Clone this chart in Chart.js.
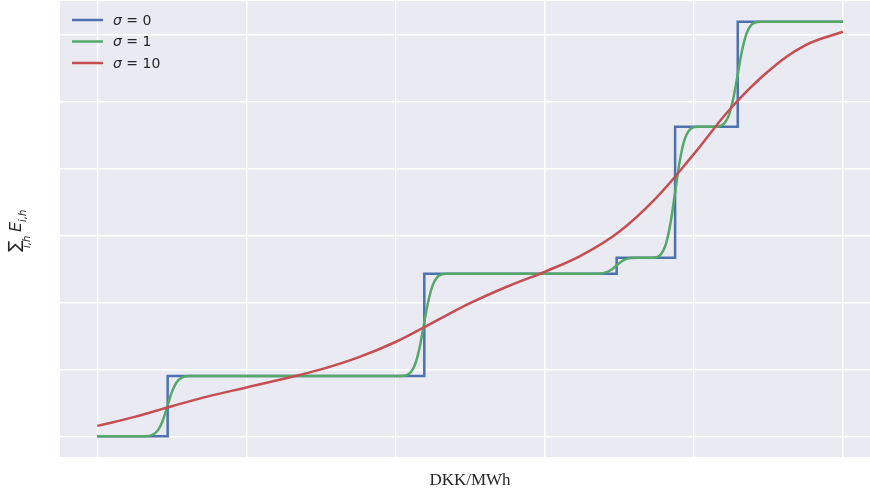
<!DOCTYPE html>
<html lang="en">
<head>
    <meta charset="UTF-8">
    <title>Smoothed supply curves</title>
    <script src="https://cdn.jsdelivr.net/npm/chart.js"></script>
    <style>
        html, body { margin: 0; padding: 0; background: white; overflow: hidden; }
        #wrap { width: 870px; height: 491px; position: relative; }
    </style>
</head>
<body>
    <div id="wrap"><canvas id="curves" width="870" height="491"></canvas></div>

    <script>
        // price axis in grid units, aggregated energy in grid units
        const sigmaLabels = ['0', '1', '10'];
        const lineColors = ['#4C72B0', '#55A868', '#C44E52'];

        // sigma = 0: the raw step curve (value changes at each price)
        const stepX = [0, 0.472, 2.193, 3.483, 3.875, 4.295, 5.0];
        const stepY = [0, 0.90, 2.43, 2.67, 4.63, 6.20, 6.20];

        // sigma = 1
        const smallX = [0, 0.32, 0.37, 0.41, 0.44, 0.47, 0.50, 0.53, 0.57, 0.62,
                        2.04, 2.09, 2.13, 2.16, 2.19, 2.22, 2.25, 2.29, 2.34,
                        3.33, 3.38, 3.42, 3.45, 3.48, 3.51, 3.54, 3.58, 3.63,
                        3.725, 3.775, 3.815, 3.845, 3.875, 3.905, 3.935, 3.975, 4.025,
                        4.145, 4.195, 4.235, 4.265, 4.295, 4.325, 4.355, 4.395, 4.445, 5.0];
        const smallY = [0, 0, 0.02, 0.10, 0.24, 0.45, 0.66, 0.80, 0.88, 0.90,
                        0.90, 0.93, 1.07, 1.31, 1.67, 2.02, 2.26, 2.40, 2.43,
                        2.43, 2.435, 2.46, 2.495, 2.55, 2.605, 2.645, 2.665, 2.67,
                        2.67, 2.71, 2.89, 3.20, 3.65, 4.10, 4.41, 4.59, 4.63,
                        4.63, 4.66, 4.80, 5.05, 5.415, 5.78, 6.03, 6.17, 6.20, 6.20];

        // sigma = 10
        const wideX = [0, 0.25, 0.5, 0.75, 1.0, 1.25, 1.5, 1.75, 2.0, 2.25, 2.5,
                       2.75, 3.0, 3.25, 3.5, 3.75, 4.0, 4.25, 4.5, 4.75, 5.0];
        const wideY = [0.155, 0.29, 0.45, 0.60, 0.73, 0.86, 1.00, 1.18, 1.41, 1.70, 1.99,
                       2.24, 2.46, 2.71, 3.06, 3.57, 4.22, 4.91, 5.46, 5.85, 6.05];

        const pts = (xs, ys) => xs.map((x, i) => ({ x: x, y: ys[i] }));

        const bgPlugin = {
            id: 'axesBg',
            beforeDraw(chart) {
                const { ctx, chartArea: a } = chart;
                ctx.save();
                ctx.fillStyle = '#EAEAF2';
                ctx.fillRect(a.left, a.top, a.right - a.left, a.bottom - a.top);
                ctx.restore();
            }
        };

        const labelPlugin = {
            id: 'labels',
            afterDraw(chart) {
                const ctx = chart.ctx;
                ctx.save();
                // legend
                chart.data.datasets.forEach((ds, i) => {
                    const y = 20 + i * 21.5;
                    ctx.strokeStyle = ds.borderColor;
                    ctx.lineWidth = 2.5;
                    ctx.beginPath();
                    ctx.moveTo(72, y);
                    ctx.lineTo(103, y);
                    ctx.stroke();
                    ctx.fillStyle = '#262626';
                    ctx.textBaseline = 'middle';
                    ctx.font = 'italic 14px "DejaVu Sans"';
                    ctx.fillText('σ', 113, y + 1);
                    const w = ctx.measureText('σ').width;
                    ctx.font = '14px "DejaVu Sans"';
                    ctx.fillText(' = ' + sigmaLabels[i], 113 + w, y + 1);
                });

                // x label
                ctx.textBaseline = 'alphabetic';
                ctx.textAlign = 'center';
                ctx.font = '17px "Liberation Serif"';
                ctx.fillText('DKK/MWh', 470, 485);

                // y label: sum over i,h of E_{i,h}, rotated
                ctx.textAlign = 'left';
                ctx.translate(30, 252);
                ctx.rotate(-Math.PI / 2);
                ctx.font = '17px "DejaVu Sans"';
                ctx.fillText('∑', 0, -10);
                ctx.font = 'italic 10px "DejaVu Sans"';
                ctx.fillText('i,h', 4, 0);
                ctx.font = 'italic 16px "DejaVu Sans"';
                ctx.fillText('E', 20, -9);
                ctx.font = 'italic 10px "DejaVu Sans"';
                ctx.fillText('i,h', 30, -4);
                ctx.restore();
            }
        };

        new Chart(document.getElementById('curves'), {
            type: 'line',
            data: {
                datasets: [
                    { label: 'σ = 0', data: pts(stepX, stepY), borderColor: lineColors[0], stepped: 'before', order: 2 },
                    { label: 'σ = 1', data: pts(smallX, smallY), borderColor: lineColors[1], cubicInterpolationMode: 'monotone', order: 1 },
                    { label: 'σ = 10', data: pts(wideX, wideY), borderColor: lineColors[2], tension: 0.4, order: 0 }
                ]
            },
            options: {
                responsive: false,
                animation: false,
                layout: { padding: { left: 60, top: 1, right: 0, bottom: 34 } },
                elements: { point: { radius: 0 }, line: { borderWidth: 2.5, fill: false } },
                plugins: { legend: { display: false }, tooltip: { enabled: false } },
                scales: {
                    x: {
                        type: 'linear', min: -0.25, max: 5.182,
                        ticks: { display: false, stepSize: 1, includeBounds: false },
                        grid: { color: '#FFFFFF', lineWidth: 1.4, drawTicks: false },
                        border: { display: false }
                    },
                    y: {
                        min: -0.31, max: 6.51,
                        ticks: { display: false, stepSize: 1, includeBounds: false },
                        grid: { color: '#FFFFFF', lineWidth: 1.4, drawTicks: false },
                        border: { display: false }
                    }
                }
            },
            plugins: [bgPlugin, labelPlugin]
        });
    </script>
</body>
</html>
